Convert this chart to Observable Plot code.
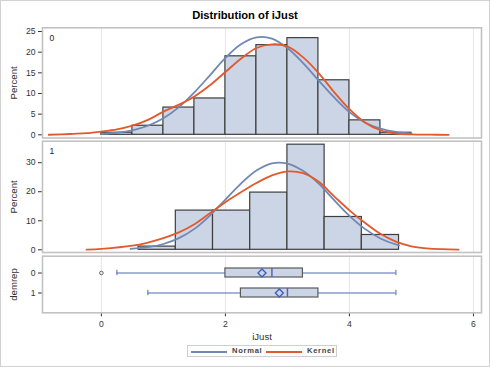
<!DOCTYPE html>
<html><head><meta charset="utf-8">
<script src="https://cdn.jsdelivr.net/npm/d3@7"></script>
<script src="https://cdn.jsdelivr.net/npm/@observablehq/plot@0.6"></script>
<style>
body{margin:0;background:#fff;}
#wrap{position:relative;width:490px;height:367px;overflow:hidden;font-family:"Liberation Sans",Arial,sans-serif;background:#fff;}
#border{position:absolute;left:0;top:0;width:490px;height:367px;box-sizing:border-box;border:1px solid #d2d2d2;pointer-events:none;}
#title{position:absolute;left:0;width:490px;top:9.5px;line-height:11px;text-align:center;font-weight:bold;font-size:11.2px;color:#000;}
.panel{position:absolute;left:0;}
.panel svg{display:block;}
g[aria-label="y-axis label"] text, g[aria-label="x-axis label"] text{font-size:9.6px;}
#legend{position:absolute;left:187px;top:345px;width:150px;height:12px;box-sizing:border-box;border:1px solid #cfcfcf;}
#legend .sw{position:absolute;top:4.5px;width:36px;height:2px;}
#legend .lt{position:absolute;top:0px;line-height:10px;font-size:7.6px;font-weight:600;letter-spacing:0.7px;color:#444;}
</style></head><body>
<div id="wrap">
  <div id="title">Distribution of iJust</div>
  <div id="p1" class="panel" style="top:22px"></div>
  <div id="p2" class="panel" style="top:139px"></div>
  <div id="p3" class="panel" style="top:254px"></div>
  <div id="legend"></div>
  <div id="border"></div>
</div>
<script>
// ---- data ----
const groups = ["0", "1"];
const legendNames = ["Normal", "Kernel"];
const xTicks = [0, 2, 4, 6];
const yTicks0 = [0, 5, 10, 15, 20, 25];
const yTicks1 = [0, 10, 20, 30];

// group 0 histogram (bin width 0.5)
const binStart0 = [0, 0.5, 1, 1.5, 2, 2.5, 3, 3.5, 4, 4.5];
const binWidth0 = 0.5;
const pct0 = [0.5, 2.2, 6.6, 8.8, 19.0, 21.7, 23.4, 13.2, 3.5, 0.5];
// group 1 histogram (bin width 0.6)
const binStart1 = [0.6, 1.2, 1.8, 2.4, 3.0, 3.6, 4.2];
const binWidth1 = 0.6;
const pct1 = [1.1, 13.5, 13.5, 19.7, 36.2, 11.3, 5.1];

// fitted curves
const normX0 = [0, 0.25, 0.5, 0.75, 1, 1.25, 1.5, 1.75, 2, 2.25, 2.5, 2.75, 3, 3.25, 3.5, 3.75, 4, 4.25, 4.5, 4.75, 5];
const normY0 = [0.21, 0.5, 1.1, 2.2, 4.0, 6.7, 10.3, 14.4, 18.6, 21.9, 23.6, 23.3, 21.0, 17.4, 13.2, 9.1, 5.5, 3.0, 1.5, 0.7, 0.3];
const kernX0 = [-0.85, -0.5, -0.25, 0, 0.25, 0.5, 0.75, 1, 1.25, 1.5, 1.75, 2, 2.25, 2.5, 2.75, 3, 3.25, 3.5, 3.75, 4, 4.25, 4.5, 4.75, 5, 5.3, 5.6];
const kernY0 = [0.02, 0.2, 0.4, 0.8, 1.3, 2.2, 3.6, 5.6, 7.3, 9.3, 12.0, 15.2, 18.4, 21.0, 21.9, 21.4, 18.8, 15.0, 10.4, 6.2, 3.0, 1.1, 0.3, 0.1, 0.03, 0.0];

const normX1 = [0.47, 0.75, 1, 1.25, 1.5, 1.75, 2, 2.25, 2.5, 2.75, 3, 3.25, 3.5, 3.75, 4, 4.25, 4.5, 4.8];
const normY1 = [0.3, 0.9, 2.0, 4.0, 7.2, 11.8, 17.3, 22.8, 27.3, 29.8, 29.7, 27.2, 22.9, 17.2, 11.7, 7.2, 3.9, 1.5];
const kernX1 = [-0.24, 0, 0.5, 0.75, 1, 1.25, 1.5, 1.75, 2, 2.25, 2.5, 2.75, 3, 3.25, 3.5, 3.75, 4, 4.25, 4.5, 4.75, 5, 5.25, 5.5, 5.76];
const kernY1 = [0.05, 0.3, 1.4, 2.5, 4.0, 6.0, 8.8, 12.6, 16.4, 19.8, 23.0, 25.6, 27.0, 26.4, 23.5, 18.5, 13.6, 9.3, 5.5, 2.8, 1.2, 0.5, 0.2, 0.05];

// box plot statistics per group
const boxLo = [0.25, 0.75];
const boxQ1 = [2.0, 2.25];
const boxMed = [2.75, 3.0];
const boxQ3 = [3.25, 3.5];
const boxHi = [4.75, 4.75];
const boxMean = [2.59, 2.87];
const outlierGroup = ["0"];
const outlierValue = [0];

// ---- styles ----
const W = 490, ML = 42, MR = 9;
const xDomain = [-0.95, 6.13];
const normalColor = "#7088b3";
const kernelColor = "#e4592c";
const barFill = "#cbd5e6";
const barStroke = "#3e3e3e";
const gridColor = "#e7e7e7";
const frameColor = "#c2c2c2";
const whiskerColor = "#5068b4";
const baseStyle = {fontFamily: '"Liberation Sans", Arial, sans-serif', fontSize: "8.6px", color: "#333", background: "transparent", overflow: "visible"};

function histPanel(o) {
  const bars = o.bins.map((b, i) => ({x1: b, x2: b + o.bw, y: o.pct[i]}));
  const normal = o.nx.map((x, i) => ({x, y: o.ny[i]}));
  const kernel = o.kx.map((x, i) => ({x, y: o.ky[i]}));
  return Plot.plot({
    width: W, height: o.height,
    marginLeft: ML, marginRight: MR, marginTop: o.mt, marginBottom: o.mb,
    style: baseStyle,
    x: {domain: xDomain, axis: null},
    y: {domain: o.yDomain, ticks: o.yTicks, tickSize: 4, tickPadding: 3, label: "Percent", labelAnchor: "center", labelArrow: "none", labelOffset: 32},
    marks: [
      Plot.ruleX(xTicks, {stroke: gridColor}),
      Plot.rectY(bars, {x1: "x1", x2: "x2", y: "y", fill: barFill, stroke: barStroke, strokeWidth: 1.2}),
      Plot.line(normal, {x: "x", y: "y", stroke: normalColor, strokeWidth: 1.8, curve: "catmull-rom"}),
      Plot.line(kernel, {x: "x", y: "y", stroke: kernelColor, strokeWidth: 1.8, curve: "catmull-rom"}),
      Plot.text([o.label], {text: d => d, frameAnchor: "top-left", dx: 7, dy: 7, fill: "#222", fontSize: 8.6}),
      Plot.frame({stroke: frameColor, strokeWidth: 1.6})
    ]
  });
}

document.getElementById("p1").append(histPanel({
  bins: binStart0, bw: binWidth0, pct: pct0, nx: normX0, ny: normY0, kx: kernX0, ky: kernY0,
  label: groups[0], yDomain: [-0.77, 25.9], yTicks: yTicks0, height: 117, mt: 5.3, mb: 1.5
}));
document.getElementById("p2").append(histPanel({
  bins: binStart1, bw: binWidth1, pct: pct1, nx: normX1, ny: normY1, kx: kernX1, ky: kernY1,
  label: groups[1], yDomain: [-0.93, 37.4], yTicks: yTicks1, height: 115, mt: 1.7, mb: 2
}));

const box = groups.map((g, i) => ({g, lo: boxLo[i], q1: boxQ1[i], med: boxMed[i], q3: boxQ3[i], hi: boxHi[i], mean: boxMean[i]}));
const outliers = outlierGroup.map((g, i) => ({g, x: outlierValue[i]}));

document.getElementById("p3").append(Plot.plot({
  width: W, height: 88,
  marginLeft: ML, marginRight: MR, marginTop: 1.7, marginBottom: 29.7,
  style: baseStyle,
  x: {domain: xDomain, ticks: xTicks, tickSize: 4, tickPadding: 4, label: "iJust", labelAnchor: "center", labelArrow: "none", labelOffset: 27},
  y: {domain: groups, type: "band", paddingInner: 0.575, paddingOuter: 0.7, align: 0.45, tickSize: 4, tickPadding: 3, label: "demrep", labelAnchor: "center", labelArrow: "none", labelOffset: 32},
  marks: [
    Plot.ruleX(xTicks, {stroke: gridColor}),
    Plot.ruleY(box, {y: "g", x1: "lo", x2: "q1", stroke: whiskerColor, strokeWidth: 1}),
    Plot.ruleY(box, {y: "g", x1: "q3", x2: "hi", stroke: whiskerColor, strokeWidth: 1}),
    Plot.tickX(box, {x: "lo", y: "g", stroke: whiskerColor, insetTop: 1.8, insetBottom: 1.8}),
    Plot.tickX(box, {x: "hi", y: "g", stroke: whiskerColor, insetTop: 1.8, insetBottom: 1.8}),
    Plot.barX(box, {x1: "q1", x2: "q3", y: "g", fill: barFill, stroke: "#5a5a5a", strokeWidth: 1.2}),
    Plot.tickX(box, {x: "med", y: "g", stroke: whiskerColor, strokeWidth: 1.5}),
    Plot.dot(box, {x: "mean", y: "g", symbol: "diamond2", r: 3.6, stroke: "#3d5fc4", strokeWidth: 1.4, fill: "none"}),
    Plot.dot(outliers, {x: "x", y: "g", r: 1.8, stroke: "#666", strokeWidth: 1, fill: "none"}),
    Plot.frame({stroke: frameColor, strokeWidth: 1.6})
  ]
}));

// ---- legend ----
const legend = document.getElementById("legend");
const legendColors = [normalColor, kernelColor];
const swLeft = [3, 78];
const txtLeft = [44, 119];
legendNames.forEach((name, i) => {
  const sw = document.createElement("div");
  sw.className = "sw";
  sw.style.left = swLeft[i] + "px";
  sw.style.background = legendColors[i];
  legend.append(sw);
  const t = document.createElement("div");
  t.className = "lt";
  t.style.left = txtLeft[i] + "px";
  t.textContent = name;
  legend.append(t);
});
</script>
</body></html>
